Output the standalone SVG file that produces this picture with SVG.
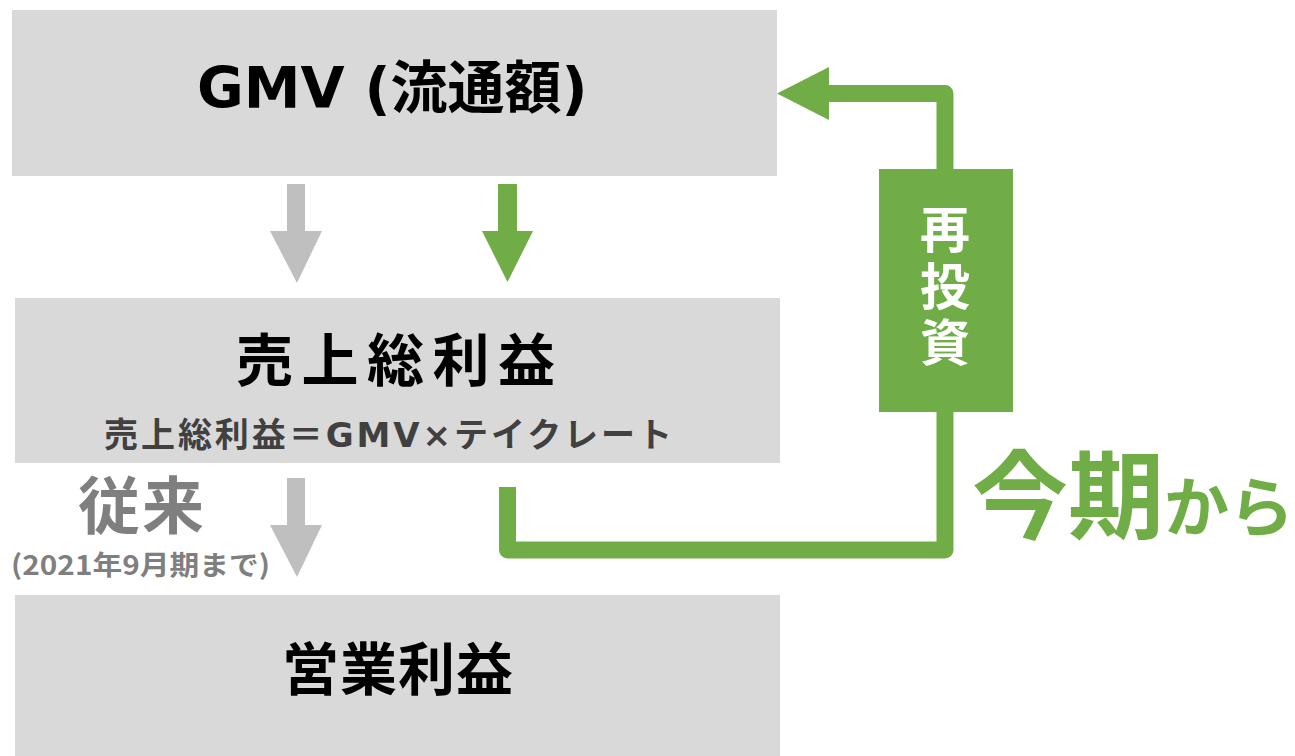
<svg xmlns="http://www.w3.org/2000/svg" width="1295" height="756" viewBox="0 0 1295 756">
  <style>
    .box { fill: #d9d9d9; }
    .jp { font-family: "DejaVu Sans", "Noto Sans CJK JP", sans-serif; font-weight: bold; }
    .cjk { font-family: "Noto Sans CJK JP", sans-serif; font-weight: bold; }
    .black { fill: #000000; }
    .sub { fill: #404040; }
    .grey { fill: #7f7f7f; }
    .green { fill: #70ad47; }
    .white { fill: #ffffff; }
    .garrow { fill: #bfbfbf; }
    .gline { fill: none; stroke: #70ad47; stroke-width: 17; stroke-linejoin: round; stroke-linecap: butt; }
  </style>
  <rect width="1295" height="756" fill="#ffffff"/>

  <g id="node-gmv">
    <rect class="box" x="12" y="10" width="765" height="166"/>
    <text class="jp black" x="197" y="108" font-size="57">GMV (流通額)</text>
  </g>

  <g id="node-gross-profit">
    <rect class="box" x="15" y="298" width="765" height="165"/>
    <text class="cjk black" x="236" y="381" font-size="57" letter-spacing="8.5">売上総利益</text>
    <text class="jp sub" x="104" y="447" font-size="34" textLength="568">売上総利益＝GMV×テイクレート</text>
  </g>

  <g id="node-operating-profit">
    <rect class="box" x="15" y="595" width="765" height="161"/>
    <text class="cjk black" x="282" y="690" font-size="57" letter-spacing="1">営業利益</text>
  </g>

  <g id="label-conventional">
    <text class="cjk grey" x="78" y="529" font-size="62" letter-spacing="2">従来</text>
    <text class="cjk grey" x="11" y="575" font-size="27" textLength="259" lengthAdjust="spacingAndGlyphs">(2021年9月期まで)</text>
  </g>

  <g id="node-reinvest">
    <rect class="green" x="879" y="169" width="134" height="243"/>
    <text class="cjk white" x="945" y="204" font-size="50" writing-mode="vertical-rl" letter-spacing="6.5">再投資</text>
  </g>

  <g id="label-from-this-term">
    <text class="cjk green" x="972" y="531" font-size="96">今期<tspan font-size="65">から</tspan></text>
  </g>

  <g id="connectors">
    <polygon class="garrow" points="287,184 305,184 305,231 322,231 297,283 270,231 287,231"/>
    <polygon class="green" points="498,184 517,184 517,231 533,231 507.5,282 482,231 498,231"/>
    <polygon class="garrow" points="287,478 305,478 305,525 322,525 297,577 270,525 287,525"/>
    <path class="gline" d="M507.5,487 V550 H945 V411"/>
    <path class="gline" d="M945,169 V93.5 H828"/>
    <polygon class="green" points="777,93.5 829,67 829,120"/>
  </g>
</svg>
